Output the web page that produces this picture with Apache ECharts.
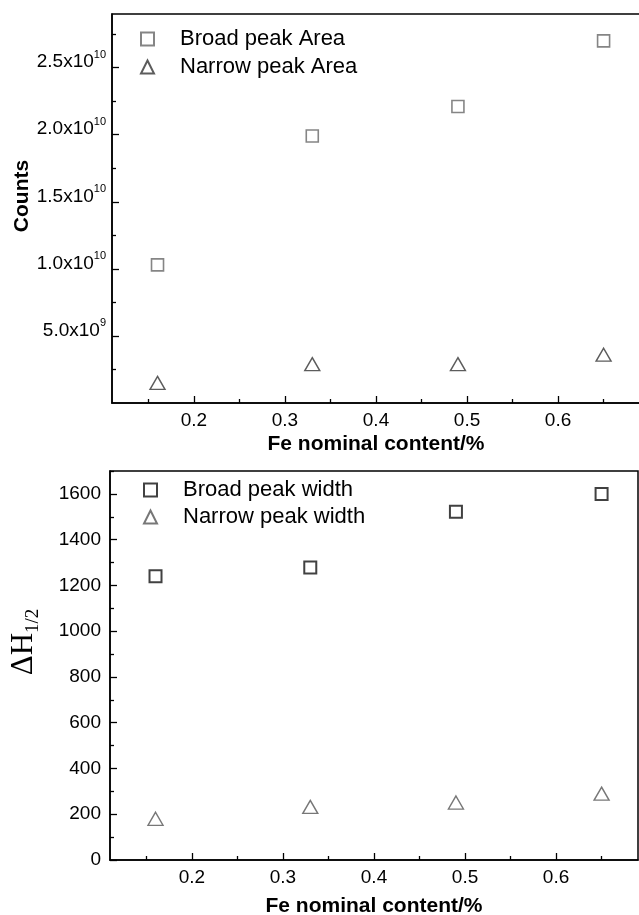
<!DOCTYPE html>
<html>
<head>
<meta charset="utf-8">
<title>Fe nominal content</title>
<script src="https://cdn.jsdelivr.net/npm/echarts@6/dist/echarts.min.js"></script>
<style>
html, body { margin: 0; padding: 0; background: #fff; }
#main { width: 639px; height: 915px; }
</style>
</head>
<body>
<div id="main"></div>
<script>
// data
var feContent = [0.16, 0.33, 0.49, 0.65];
var broadArea = [1.03e10, 1.99e10, 2.21e10, 2.70e10];
var narrowArea = [1.5e9, 2.9e9, 2.9e9, 3.6e9];
var broadWidth = [1240, 1278, 1522, 1600];
var narrowWidth = [180, 232, 251, 290];

// tick positions
var xMajor = [0.2, 0.3, 0.4, 0.5, 0.6];
var xMinor = [0.15, 0.25, 0.35, 0.45, 0.55, 0.65];
var countsMajor = [5e9, 1e10, 1.5e10, 2e10, 2.5e10];
var countsMinor = [2.5e9, 7.5e9, 1.25e10, 1.75e10, 2.25e10, 2.75e10];
var widthMajor = [0, 200, 400, 600, 800, 1000, 1200, 1400, 1600];
var widthMinor = [100, 300, 500, 700, 900, 1100, 1300, 1500, 1700];

var sans = 'Liberation Sans, Arial, sans-serif';
var serif = 'Liberation Serif, Times New Roman, serif';
var ink = '#000';

function pairs(xs, ys) {
  return xs.map(function (x, i) { return [x, ys[i]]; });
}

// 2.5x10^10 style labels
function sciLabel(v) {
  var e = Math.floor(Math.log10(v) + 1e-9);
  var m = (v / Math.pow(10, e)).toFixed(1);
  return '{b|' + m + 'x10}{s|' + e + '}';
}

function majorX(grid, minV, maxV) {
  return {
    type: 'value', gridIndex: grid, position: 'bottom', min: minV, max: maxV,
    axisLine: { show: true, onZero: false, lineStyle: { color: ink, width: 1.5 } },
    axisTick: { show: true, inside: true, length: 7, lineStyle: { color: ink, width: 1.3 }, customValues: xMajor },
    axisLabel: { show: true, margin: 8, color: ink, fontFamily: sans, fontSize: 19, customValues: xMajor },
    splitLine: { show: false },
    name: 'Fe nominal content/%', nameLocation: 'middle', nameGap: grid === 0 ? 31 : 36,
    nameTextStyle: { fontFamily: sans, fontWeight: 'bold', fontSize: 21, color: ink }
  };
}
function minorX(grid, minV, maxV) {
  return {
    type: 'value', gridIndex: grid, position: 'bottom', min: minV, max: maxV,
    axisLine: { show: false },
    axisTick: { show: true, inside: true, length: 4, lineStyle: { color: ink, width: 1.3 }, customValues: xMinor },
    axisLabel: { show: false },
    splitLine: { show: false }
  };
}

var chart = echarts.init(document.getElementById('main'));

var option = {
  backgroundColor: '#fff',
  animation: false,
  grid: [
    { left: 112, top: 14, width: 528, height: 389, outerBoundsMode: 'none', containLabel: false,
      show: true, borderColor: ink, borderWidth: 1.5, backgroundColor: 'transparent' },
    { left: 110, top: 471, width: 528, height: 389, outerBoundsMode: 'none', containLabel: false,
      show: true, borderColor: ink, borderWidth: 1.5, backgroundColor: 'transparent' }
  ],
  xAxis: [
    majorX(0, 0.11, 0.69),
    minorX(0, 0.11, 0.69),
    majorX(1, 0.11, 0.69),
    minorX(1, 0.11, 0.69)
  ],
  yAxis: [
    {
      type: 'value', gridIndex: 0, position: 'left', min: 0, max: 2.9e10,
      axisLine: { show: true, onZero: false, lineStyle: { color: ink, width: 1.5 } },
      axisTick: { show: true, inside: true, length: 7, lineStyle: { color: ink, width: 1.3 }, customValues: countsMajor },
      axisLabel: {
        show: true, margin: 6, customValues: countsMajor, padding: [0, 0, 11, 0],
        formatter: sciLabel,
        rich: {
          b: { fontFamily: sans, fontSize: 19, color: ink, lineHeight: 26 },
          s: { fontFamily: sans, fontSize: 11, color: ink, lineHeight: 11, verticalAlign: 'top' }
        }
      },
      splitLine: { show: false }
    },
    {
      type: 'value', gridIndex: 0, position: 'left', min: 0, max: 2.9e10,
      axisLine: { show: false },
      axisTick: { show: true, inside: true, length: 4, lineStyle: { color: ink, width: 1.3 }, customValues: countsMinor },
      axisLabel: { show: false },
      splitLine: { show: false }
    },
    {
      type: 'value', gridIndex: 1, position: 'left', min: 0, max: 1700,
      axisLine: { show: true, onZero: false, lineStyle: { color: ink, width: 1.5 } },
      axisTick: { show: true, inside: true, length: 7, lineStyle: { color: ink, width: 1.3 }, customValues: widthMajor },
      axisLabel: {
        show: true, margin: 9, color: ink, fontFamily: sans, fontSize: 19, customValues: widthMajor,
        formatter: function (v) { return String(v); }
      },
      splitLine: { show: false }
    },
    {
      type: 'value', gridIndex: 1, position: 'left', min: 0, max: 1700,
      axisLine: { show: false },
      axisTick: { show: true, inside: true, length: 4, lineStyle: { color: ink, width: 1.3 }, customValues: widthMinor },
      axisLabel: { show: false },
      splitLine: { show: false }
    }
  ],
  legend: [
    {
      data: ['Broad peak Area', 'Narrow peak Area'],
      orient: 'vertical', left: 140, top: 27, padding: 0, itemGap: 4,
      itemWidth: 13, itemHeight: 13, selectedMode: false,
      textStyle: { fontFamily: sans, fontSize: 22, color: ink, lineHeight: 24, padding: [0, 0, 0, 21] }
    },
    {
      data: ['Broad peak width', 'Narrow peak width'],
      orient: 'vertical', left: 143, top: 478, padding: 0, itemGap: 3,
      itemWidth: 13, itemHeight: 13, selectedMode: false,
      textStyle: { fontFamily: sans, fontSize: 22, color: ink, lineHeight: 24, padding: [0, 0, 0, 21] }
    }
  ],
  graphic: [
    {
      type: 'text', x: 22, y: 196, rotation: Math.PI / 2,
      style: { text: 'Counts', font: 'bold 21px ' + sans, fill: ink, align: 'center', verticalAlign: 'middle' }
    },
    {
      type: 'text', x: 24, y: 642, rotation: Math.PI / 2,
      style: {
        text: '{a|ΔH}{s|1/2}', align: 'center', verticalAlign: 'middle', fill: ink,
        rich: {
          a: { fontFamily: serif, fontSize: 31, fill: ink, lineHeight: 38 },
          s: { fontFamily: serif, fontSize: 19, fill: ink, lineHeight: 19, verticalAlign: 'bottom' }
        }
      }
    }
  ],
  series: [
    {
      name: 'Broad peak Area', type: 'scatter', xAxisIndex: 0, yAxisIndex: 0,
      symbol: 'rect', symbolSize: 12,
      itemStyle: { color: '#fff', borderColor: '#666', borderWidth: 1.6 },
      data: pairs(feContent, broadArea)
    },
    {
      name: 'Narrow peak Area', type: 'scatter', xAxisIndex: 0, yAxisIndex: 0,
      symbol: 'triangle', symbolSize: [15, 13],
      itemStyle: { color: '#fff', borderColor: '#333', borderWidth: 1.4 },
      data: pairs(feContent, narrowArea)
    },
    {
      name: 'Broad peak width', type: 'scatter', xAxisIndex: 2, yAxisIndex: 2,
      symbol: 'rect', symbolSize: 12,
      itemStyle: { color: '#fff', borderColor: '#111', borderWidth: 2 },
      data: pairs(feContent, broadWidth)
    },
    {
      name: 'Narrow peak width', type: 'scatter', xAxisIndex: 2, yAxisIndex: 2,
      symbol: 'triangle', symbolSize: [15, 13],
      itemStyle: { color: '#fff', borderColor: '#555', borderWidth: 1.4 },
      data: pairs(feContent, narrowWidth)
    }
  ]
};

chart.setOption(option);
</script>
</body>
</html>
